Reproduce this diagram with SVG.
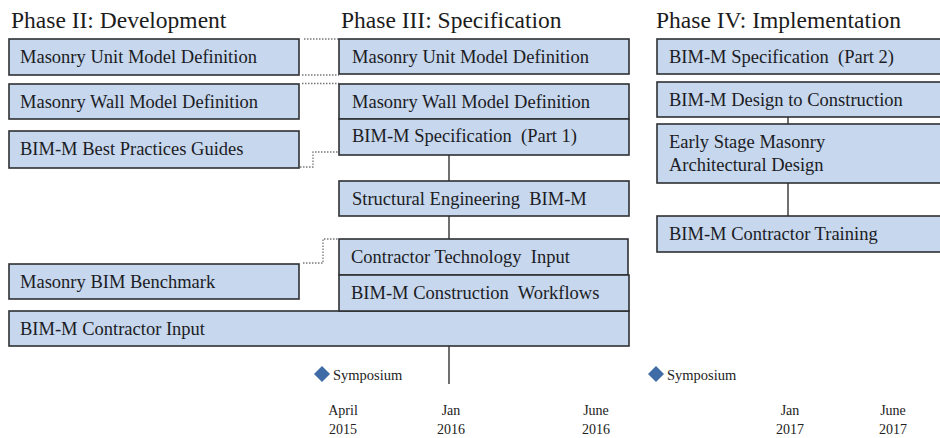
<svg xmlns="http://www.w3.org/2000/svg" width="940" height="438" viewBox="0 0 940 438">
  <style>
    .box { fill: #c6d7ee; stroke: #2e3033; stroke-width: 1.6; }
    .lbl { font-family: "Liberation Serif", "Times New Roman", serif; font-size: 18.5px; fill: #1c1c24; white-space: pre; }
    .head { font-family: "Liberation Serif", "Times New Roman", serif; font-size: 23.5px; fill: #1c1c1c; }
    .date { font-family: "Liberation Serif", "Times New Roman", serif; font-size: 14px; fill: #222; text-anchor: middle; }
    .sym { font-family: "Liberation Serif", "Times New Roman", serif; font-size: 14.5px; fill: #222; }
    .solid { stroke: #333; stroke-width: 1.4; fill: none; }
    .dot { stroke: #777; stroke-width: 1.3; stroke-dasharray: 1.5 1.5; fill: none; }
    .dia { fill: #3f6ca6; }
  </style>

  <!-- phase headings -->
  <g id="headings">
    <text class="head" x="11" y="28">Phase II: Development</text>
    <text class="head" x="341" y="28">Phase III: Specification</text>
    <text class="head" x="656" y="28">Phase IV: Implementation</text>
  </g>

  <!-- connectors -->
  <g id="connectors">
    <line class="dot" x1="304" y1="39" x2="339" y2="39"/>
    <line class="dot" x1="302" y1="75" x2="339" y2="75"/>
    <line class="dot" x1="302" y1="83.5" x2="339" y2="83.5"/>
    <polyline class="dot" points="300,167 313,167 313,152 339,152"/>
    <polyline class="dot" points="303,263 323,263 323,239 339,239"/>
    <line class="solid" x1="449" y1="155" x2="449" y2="181"/>
    <line class="solid" x1="449" y1="216" x2="449" y2="239"/>
    <line class="solid" x1="449" y1="346" x2="449" y2="384"/>
    <line class="solid" x1="788" y1="117" x2="788" y2="124"/>
    <line class="solid" x1="788" y1="183" x2="788" y2="216"/>
  </g>

  <!-- Phase II -->
  <g id="p2-unit">
    <rect class="box" x="9" y="39" width="290" height="36"/>
    <text class="lbl" x="20" y="63">Masonry Unit Model Definition</text>
  </g>
  <g id="p2-wall">
    <rect class="box" x="9" y="84" width="290" height="35"/>
    <text class="lbl" x="20" y="108">Masonry Wall Model Definition</text>
  </g>
  <g id="p2-guides">
    <rect class="box" x="9" y="131" width="290" height="37"/>
    <text class="lbl" x="20" y="155">BIM-M Best Practices Guides</text>
  </g>
  <g id="p2-benchmark">
    <rect class="box" x="9" y="264" width="290" height="35"/>
    <text class="lbl" x="20" y="288">Masonry BIM Benchmark</text>
  </g>
  <g id="contractor-input">
    <rect class="box" x="9" y="311" width="620" height="35"/>
    <text class="lbl" x="20" y="335">BIM-M Contractor Input</text>
  </g>

  <!-- Phase III -->
  <g id="p3-unit">
    <rect class="box" x="339" y="39" width="290" height="35"/>
    <text class="lbl" x="352" y="63">Masonry Unit Model Definition</text>
  </g>
  <g id="p3-wall">
    <rect class="box" x="339" y="84" width="290" height="35"/>
    <text class="lbl" x="352" y="108">Masonry Wall Model Definition</text>
  </g>
  <g id="p3-spec1">
    <rect class="box" x="339" y="119" width="290" height="36"/>
    <text class="lbl" x="352" y="142">BIM-M Specification  (Part 1)</text>
  </g>
  <g id="p3-structural">
    <rect class="box" x="339" y="181" width="290" height="35"/>
    <text class="lbl" x="352" y="205">Structural Engineering  BIM-M</text>
  </g>
  <g id="p3-tech-input">
    <rect class="box" x="339" y="239" width="289" height="36"/>
    <text class="lbl" x="351" y="263">Contractor Technology  Input</text>
  </g>
  <g id="p3-workflows">
    <rect class="box" x="339" y="275" width="290" height="36"/>
    <text class="lbl" x="351" y="299">BIM-M Construction  Workflows</text>
  </g>

  <!-- Phase IV -->
  <g id="p4-spec2">
    <rect class="box" x="657" y="39" width="290" height="35"/>
    <text class="lbl" x="669" y="63">BIM-M Specification  (Part 2)</text>
  </g>
  <g id="p4-design">
    <rect class="box" x="657" y="82" width="290" height="35"/>
    <text class="lbl" x="669" y="106">BIM-M Design to Construction</text>
  </g>
  <g id="p4-early">
    <rect class="box" x="657" y="124" width="290" height="59"/>
    <text class="lbl" x="669" y="148">Early Stage Masonry</text>
    <text class="lbl" x="669" y="171">Architectural Design</text>
  </g>
  <g id="p4-training">
    <rect class="box" x="657" y="216" width="290" height="36"/>
    <text class="lbl" x="669" y="240">BIM-M Contractor Training</text>
  </g>

  <!-- milestones -->
  <g id="symposium-1">
    <path class="dia" d="M322,366 L330,374 L322,382 L314,374 Z"/>
    <text class="sym" x="333" y="380">Symposium</text>
  </g>
  <g id="symposium-2">
    <path class="dia" d="M656,366 L664,374 L656,382 L648,374 Z"/>
    <text class="sym" x="667" y="380">Symposium</text>
  </g>

  <!-- timeline dates -->
  <g id="dates">
    <text class="date" x="343" y="415">April</text>
    <text class="date" x="343" y="434">2015</text>
    <text class="date" x="451" y="415">Jan</text>
    <text class="date" x="451" y="434">2016</text>
    <text class="date" x="596" y="415">June</text>
    <text class="date" x="596" y="434">2016</text>
    <text class="date" x="790" y="415">Jan</text>
    <text class="date" x="790" y="434">2017</text>
    <text class="date" x="893" y="415">June</text>
    <text class="date" x="893" y="434">2017</text>
  </g>
</svg>
